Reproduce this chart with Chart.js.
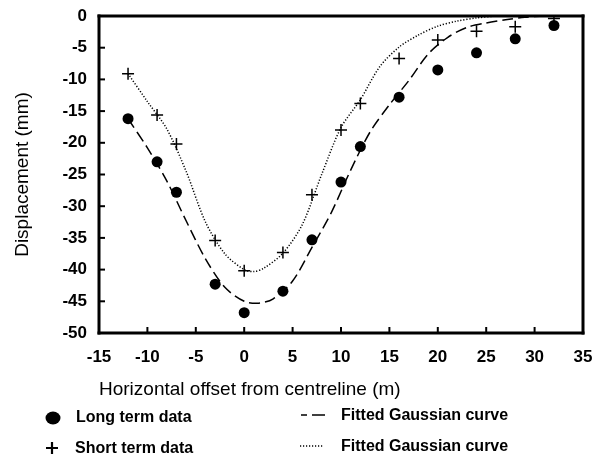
<!DOCTYPE html>
<html>
<head>
<meta charset="utf-8">
<script src="https://cdn.jsdelivr.net/npm/chart.js@4/dist/chart.umd.min.js"></script>
<style>
  html, body { margin: 0; padding: 0; background: #ffffff; }
  #wrap { position: relative; width: 601px; height: 456px; }
</style>
</head>
<body>
<div id="wrap"><canvas id="c" width="601" height="456"></canvas></div>
<script>
// ---- data ----
const xLabelTitle = 'Horizontal offset from centreline (m)';
const yLabelTitle = 'Displacement (mm)';
const legendLong = 'Long term data';
const legendShort = 'Short term data';
const legendFit = 'Fitted Gaussian curve';

const longX  = [-12, -9, -7, -3, 0, 4, 7, 10, 12, 16, 20, 24, 28, 32];
const longY  = [-16.2, -23.0, -27.8, -42.3, -46.8, -43.4, -35.3, -26.2, -20.6, -12.8, -8.5, -5.8, -3.6, -1.5];
const shortX = [-12, -9, -7, -3, 0, 4, 7, 10, 12, 16, 20, 24, 28, 32];
const shortY = [-9.1, -15.6, -20.2, -35.4, -40.2, -37.3, -28.2, -18.0, -13.8, -6.7, -3.8, -2.4, -1.7, -0.4];

const fitLongX  = [-12, -10, -8, -6, -4, -2, 0, 1.5, 3, 5, 7, 9, 11, 13, 15, 17, 19, 21, 23, 25, 27, 29, 31];
const fitLongY  = [-16.2, -20.8, -26.0, -32.3, -38.3, -42.8, -45.0, -45.3, -44.6, -41.8, -36.5, -31.0, -24.3, -18.3, -14.0, -10.2, -6.0, -3.4, -1.8, -1.1, -0.6, -0.2, 0];
const fitShortX = [-12, -10, -8, -6, -4, -2, 0, 1, 2, 4, 6, 8, 10, 12, 14, 16, 18, 20, 22, 24, 26];
const fitShortY = [-9.1, -13.5, -17.8, -24.5, -32.5, -37.5, -40.0, -40.3, -39.8, -37.4, -32.9, -25.0, -17.6, -13.2, -8.0, -4.9, -3.0, -1.6, -0.8, -0.3, 0];

const xTicks = [-15, -10, -5, 0, 5, 10, 15, 20, 25, 30, 35];
const yTicks = [-50, -45, -40, -35, -30, -25, -20, -15, -10, -5, 0];

const toPts = (xs, ys) => xs.map((x, i) => ({ x: x, y: ys[i] }));

const FONT = '"Liberation Sans", Arial, sans-serif';

const framePlugin = {
  id: 'frameTicksLegend',
  afterDraw(chart) {
    const { ctx, chartArea: a, scales } = chart;
    ctx.save();
    ctx.setLineDash([]);
    ctx.strokeStyle = '#000000';
    ctx.fillStyle = '#000000';
    // inward tick marks
    ctx.lineWidth = 2;
    xTicks.forEach(v => {
      const px = scales.x.getPixelForValue(v);
      ctx.beginPath(); ctx.moveTo(px, a.bottom); ctx.lineTo(px, a.bottom - 6); ctx.stroke();
    });
    yTicks.forEach(v => {
      const py = scales.y.getPixelForValue(v);
      ctx.beginPath(); ctx.moveTo(a.left, py); ctx.lineTo(a.left + 6, py); ctx.stroke();
    });
    // frame: four sides
    ctx.lineWidth = 3;
    ctx.lineCap = 'square';
    const L = scales.x.getPixelForValue(scales.x.min);
    const R = scales.x.getPixelForValue(scales.x.max);
    const T = scales.y.getPixelForValue(scales.y.max);
    const B = scales.y.getPixelForValue(scales.y.min);
    ctx.beginPath(); ctx.moveTo(L, T); ctx.lineTo(R, T); ctx.stroke();
    ctx.beginPath(); ctx.moveTo(R, T); ctx.lineTo(R, B); ctx.stroke();
    ctx.beginPath(); ctx.moveTo(L, B); ctx.lineTo(R, B); ctx.stroke();
    ctx.beginPath(); ctx.moveTo(L, T); ctx.lineTo(L, B); ctx.stroke();
    ctx.lineCap = 'butt';

    // legend markers
    ctx.beginPath(); ctx.ellipse(53, 418, 7.5, 6.5, 0, 0, Math.PI * 2); ctx.fill();
    ctx.lineWidth = 2.2;
    ctx.beginPath(); ctx.moveTo(46, 448); ctx.lineTo(58, 448); ctx.moveTo(52, 442); ctx.lineTo(52, 454); ctx.stroke();
    ctx.lineWidth = 1.5;
    ctx.beginPath(); ctx.moveTo(301, 415); ctx.lineTo(307, 415); ctx.moveTo(312, 415); ctx.lineTo(325, 415); ctx.stroke();
    ctx.setLineDash([1.2, 1.8]);
    ctx.beginPath(); ctx.moveTo(300, 446); ctx.lineTo(323, 446); ctx.stroke();
    ctx.setLineDash([]);
    // legend text
    ctx.font = 'bold 16px ' + FONT;
    ctx.textBaseline = 'middle';
    ctx.textAlign = 'left';
    ctx.fillText(legendLong, 76, 418);
    ctx.fillText(legendShort, 75, 449);
    ctx.fillText(legendFit, 341, 416);
    ctx.fillText(legendFit, 341, 447);
    ctx.restore();
  }
};

new Chart(document.getElementById('c'), {
  type: 'scatter',
  data: {
    datasets: [
      {
        label: legendFit + ' (long)',
        data: toPts(fitLongX, fitLongY),
        showLine: true, pointRadius: 0, borderColor: '#000', borderWidth: 1.5,
        borderDash: [11, 5], tension: 0.3, fill: false, order: 3
      },
      {
        label: legendFit + ' (short)',
        data: toPts(fitShortX, fitShortY),
        showLine: true, pointRadius: 0, borderColor: '#000', borderWidth: 1.5,
        borderDash: [1.2, 1.8], tension: 0.3, fill: false, order: 4
      },
      {
        label: legendLong,
        data: toPts(longX, longY),
        pointStyle: 'circle', pointRadius: 5.5, backgroundColor: '#000', borderColor: '#000', borderWidth: 0, order: 1
      },
      {
        label: legendShort,
        data: toPts(shortX, shortY),
        pointStyle: 'cross', pointRadius: 6, borderColor: '#000', borderWidth: 1.5, order: 2
      }
    ]
  },
  options: {
    responsive: false,
    animation: false,
    layout: { padding: { left: 0, right: 18, top: 16, bottom: 55 } },
    plugins: { legend: { display: false }, tooltip: { enabled: false } },
    scales: {
      x: {
        type: 'linear', min: -15, max: 35,
        grid: { display: false, drawTicks: false, tickLength: 0 },
        border: { display: false },
        afterBuildTicks: s => { s.ticks = xTicks.map(v => ({ value: v })); },
        ticks: { color: '#000', padding: 14, font: { family: FONT, size: 17, weight: 'bold' }, maxRotation: 0 },
        title: { display: true, text: xLabelTitle, align: 'start', color: '#000', padding: { top: 0, bottom: 0 }, font: { family: FONT, size: 19 } },
        afterFit: s => { s.height = 68; s.paddingLeft = 0; s.paddingRight = 0; }
      },
      y: {
        type: 'linear', min: -50, max: 0,
        grid: { display: false, drawTicks: false, tickLength: 0 },
        border: { display: false },
        afterBuildTicks: s => { s.ticks = yTicks.map(v => ({ value: v })); },
        ticks: { color: '#000', padding: 12, font: { family: FONT, size: 17, weight: 'bold' } },
        title: { display: true, text: yLabelTitle, color: '#000', padding: { top: 11, bottom: 0 }, font: { family: FONT, size: 19 } },
        afterFit: s => { s.width = 99; s.paddingTop = 0; s.paddingBottom = 0; }
      }
    }
  },
  plugins: [framePlugin]
});
</script>
</body>
</html>
